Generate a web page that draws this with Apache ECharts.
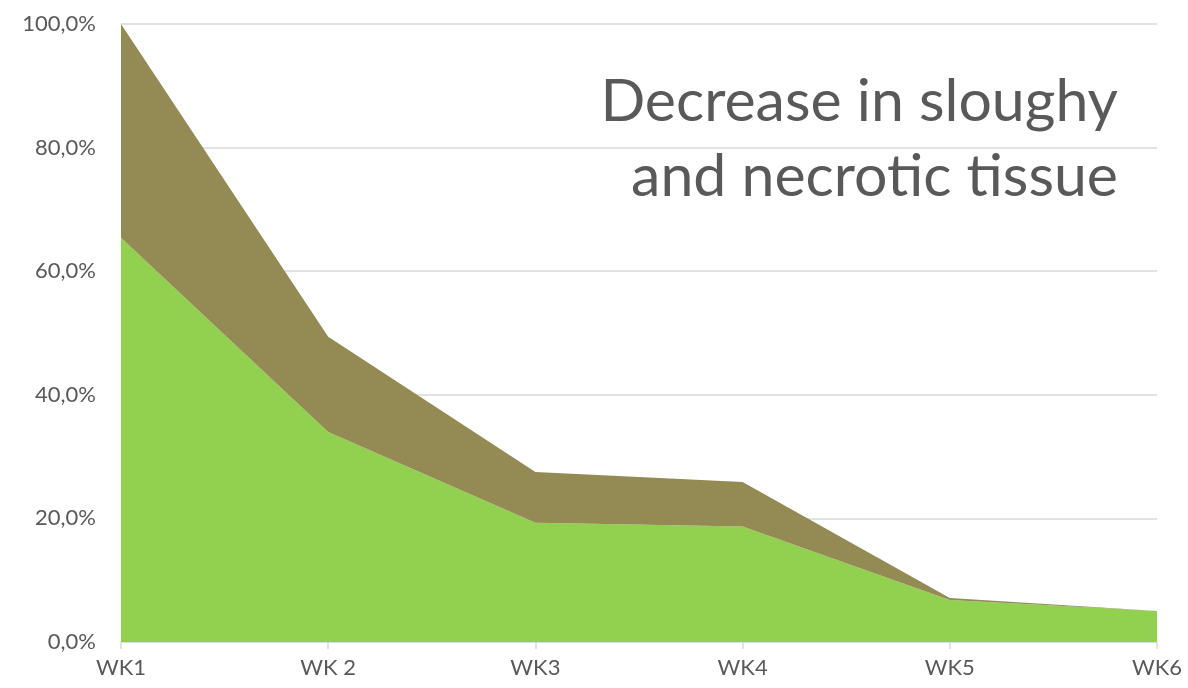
<!DOCTYPE html>
<html>
<head>
<meta charset="utf-8">
<script src="https://cdn.jsdelivr.net/npm/echarts@6/dist/echarts.min.js"></script>
<style>
  html, body { margin: 0; padding: 0; background: #ffffff; }
  #chart { width: 1188px; height: 688px; }
</style>
</head>
<body>
<div id="chart"></div>
<script>
// Weekly share of wound bed covered by each tissue type (%)
const weeks = ['WK1', 'WK 2', 'WK3', 'WK4', 'WK5', 'WK6'];
const sloughValues = [65.4, 34.0, 19.3, 18.7, 6.8, 5.0];
const necroticValues = [34.6, 15.4, 8.2, 7.2, 0.3, 0.0];
const titleLines = ['Decrease in sloughy', 'and necrotic tissue'];

const fontFamily = '"Century Gothic", Lato, "Noto Sans", sans-serif';
const textColor = '#595959';

const chart = echarts.init(document.getElementById('chart'), null, { renderer: 'canvas' });

// Right-aligned two-line heading inside the plot area
const headingElements = titleLines.map((line, i) => ({
  type: 'text',
  x: 1118,
  y: 72 + i * 75,
  silent: true,
  style: {
    text: line,
    fill: textColor,
    font: 'normal 59px ' + fontFamily,
    textAlign: 'right',
    textVerticalAlign: 'top'
  }
}));

chart.setOption({
  animation: false,
  backgroundColor: '#ffffff',
  grid: { left: 121, right: 31, top: 24, bottom: 46 },
  graphic: headingElements,
  xAxis: {
    type: 'category',
    data: weeks,
    boundaryGap: false,
    axisLine: { lineStyle: { color: '#d9d9d9', width: 1.5 } },
    axisTick: { show: true, alignWithLabel: true, length: 7, lineStyle: { color: '#d9d9d9', width: 1.5 } },
    axisLabel: { color: textColor, fontFamily: fontFamily, fontSize: 22, margin: 15 },
    splitLine: { show: false }
  },
  yAxis: {
    type: 'value',
    min: 0,
    max: 100,
    interval: 20,
    axisLine: { show: false },
    axisTick: { show: false },
    axisLabel: {
      color: textColor,
      fontFamily: fontFamily,
      fontSize: 22,
      margin: 25,
      formatter: v => v.toFixed(1).replace('.', ',') + '%'
    },
    splitLine: { lineStyle: { color: '#d9d9d9', width: 1.5 } }
  },
  series: [
    {
      name: 'Sloughy',
      type: 'line',
      stack: 'tissue',
      data: sloughValues,
      symbol: 'none',
      lineStyle: { width: 0 },
      areaStyle: { color: '#92d050', opacity: 1 },
      itemStyle: { color: '#92d050' }
    },
    {
      name: 'Necrotic',
      type: 'line',
      stack: 'tissue',
      data: necroticValues,
      symbol: 'none',
      lineStyle: { width: 0 },
      areaStyle: { color: '#948a54', opacity: 1 },
      itemStyle: { color: '#948a54' }
    }
  ]
});
</script>
</body>
</html>
